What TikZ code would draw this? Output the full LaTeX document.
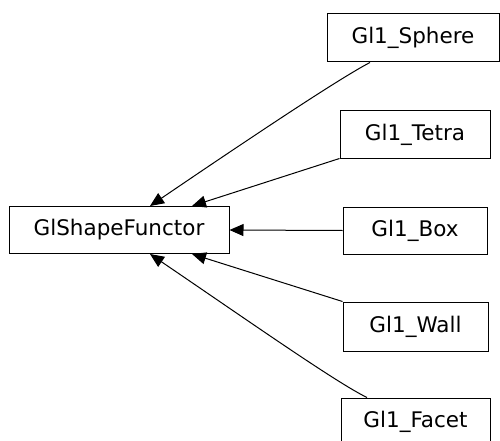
\documentclass[tikz,border=0pt]{standalone}
\usepackage{fontspec}
\setmainfont{DejaVu Sans}
\usetikzlibrary{arrows.meta}
\begin{document}
\begin{tikzpicture}[x=1pt,y=-1pt,
  box/.style={draw=black,line width=1pt,inner sep=0pt,minimum height=48pt,
    font=\fontsize{21.5}{24}\selectfont,text=black},
  edge/.style={draw=black,line width=1pt,-{Triangle[length=14pt,width=12pt]}}]
\useasboundingbox (0,0) rectangle (500,441);
\node[box,minimum width=220pt,minimum height=47pt] (gsf) at (119,230) {GlShapeFunctor};
\node[box,minimum width=172pt] (sphere) at (413,38) {Gl1\_Sphere};
\node[box,minimum width=150pt,minimum height=47pt] (tetra) at (415,134.5) {Gl1\_Tetra};
\node[box,minimum width=144pt,minimum height=47pt] (boxn) at (415,230.5) {Gl1\_Box};
\node[box,minimum width=145pt,minimum height=49pt] (wall) at (415.5,326.5) {Gl1\_Wall};
\node[box,minimum width=149pt] (facet) at (415.5,422) {Gl1\_Facet};
\draw[edge] ([xshift=-43pt]sphere.south) .. controls (340,78) and (250,138) .. ([xshift=31pt]gsf.north);
\draw[edge] (tetra.south west) -- ([xshift=73pt]gsf.north);
\draw[edge] (boxn.west) -- (gsf.east);
\draw[edge] (wall.north west) -- ([xshift=73pt]gsf.south);
\draw[edge] ([xshift=-48.5pt]facet.north) .. controls (337,383) and (250,322) .. ([xshift=31pt]gsf.south);
\end{tikzpicture}
\end{document}
